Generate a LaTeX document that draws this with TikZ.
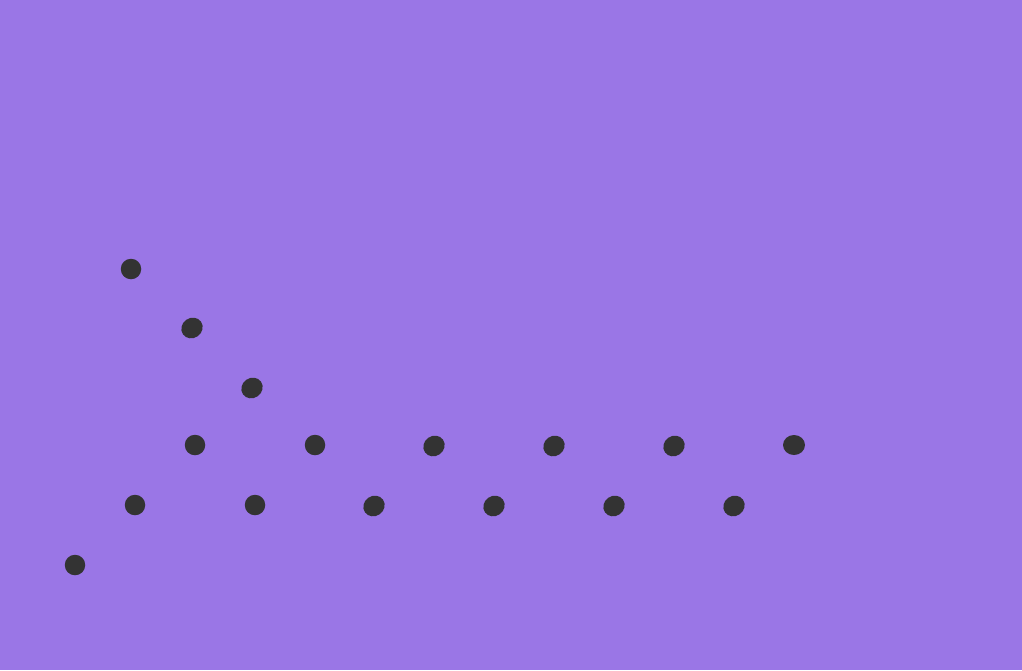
\documentclass[tikz,border=0pt]{standalone}
\usetikzlibrary{shapes.geometric}
\definecolor{bg}{HTML}{9A76E6}
\definecolor{dot}{HTML}{333333}
\begin{document}
\begin{tikzpicture}[x=1pt,y=-1pt,
  rdot/.style={circle,fill=dot,inner sep=0pt,minimum size=20.5pt},
  tdot/.style={ellipse,fill=dot,inner sep=0pt,minimum width=22pt,minimum height=20pt,rotate=35},
  wdot/.style={ellipse,fill=dot,inner sep=0pt,minimum width=22pt,minimum height=20pt}]
\fill[bg] (0,0) rectangle (1022,670);
\useasboundingbox (0,0) rectangle (1022,670);
\node[rdot] (d1) at (131,269) {};
\node[tdot] (d2) at (192,328) {};
\node[tdot] (d3) at (252,388) {};
\node[rdot] (r1) at (195,445) {};
\node[rdot] (r2) at (315,445) {};
\node[tdot] (r3) at (434,446) {};
\node[tdot] (r4) at (554,446) {};
\node[tdot] (r5) at (674,446) {};
\node[wdot] (r6) at (794,445) {};
\node[rdot] (s1) at (135,505) {};
\node[rdot] (s2) at (255,505) {};
\node[tdot] (s3) at (374,506) {};
\node[tdot] (s4) at (494,506) {};
\node[tdot] (s5) at (614,506) {};
\node[tdot] (s6) at (734,506) {};
\node[rdot] (u1) at (75,565) {};
\end{tikzpicture}
\end{document}
